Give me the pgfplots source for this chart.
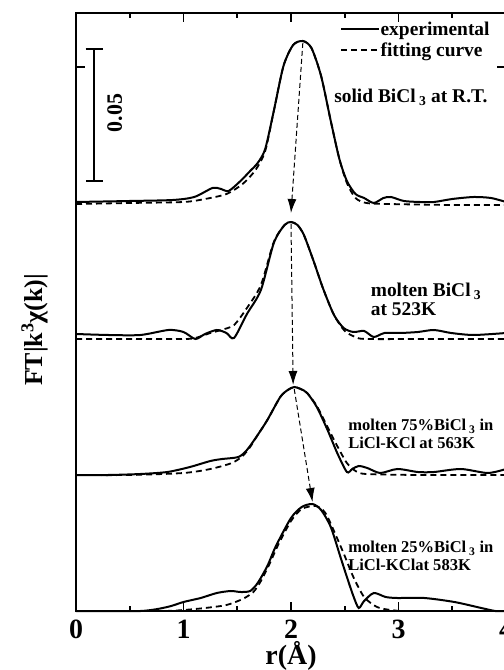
\documentclass[border=0pt]{standalone}
\usepackage{fontspec}
\setmainfont{Liberation Serif}
\usepackage{pgfplots}
\pgfplotsset{compat=1.18}
\usetikzlibrary{arrows.meta}
\begin{document}
\begin{tikzpicture}
\tikzset{
  exp/.style={line width=2bp, black, smooth, tension=0.45},
  fit/.style={line width=1.8bp, black, dash pattern=on 6bp off 4bp, smooth, tension=0.45},
  arr/.style={line width=1bp, black, dash pattern=on 5bp off 3bp, -{Latex[length=14bp,width=9bp]}},
}
\begin{axis}[
  name=ax,
  scale only axis,
  width=430bp, height=598bp,
  xmin=0, xmax=4, ymin=0, ymax=598,
  axis line style={line width=2bp},
  every tick/.style={line width=1.8bp, black},
  tick align=inside,
  major tick length=9bp, minor tick length=5bp,
  xtick={0,1,2,3,4},
  minor xtick={0.5,1.5,2.5,3.5},
  xtick pos=both,
  ytick={544}, yticklabels={}, ytick pos=both,
  /pgf/number format/assume math mode=true,
  xticklabel style={font=\fontsize{28}{28}\selectfont\bfseries, anchor=center, yshift=-18bp},
  xlabel={r(Å)},
  xlabel style={font=\fontsize{28}{28}\selectfont\bfseries, at={(axis description cs:0.5,-0.075)}, anchor=center},
  ylabel={FT|k\textsuperscript{3}χ(k)|},
  ylabel style={font=\fontsize{26}{26}\selectfont\bfseries, at={(axis description cs:-0.096,0.47)}, anchor=center},
  clip=false,
  legend style={at={(axis cs:2.455,590)}, anchor=north west, draw=none, fill=none,
    font=\fontsize{19.5}{19.5}\selectfont\bfseries, inner sep=0pt, row sep=5bp,
    nodes={inner sep=0.5bp}, cells={anchor=west}},
  legend image code/.code={\draw[#1] (0bp,0bp) -- (38bp,0bp);},
]
\addlegendimage{line width=2bp, black}
\addlegendentry{experimental}
\addlegendimage{line width=1.8bp, black, dash pattern=on 6bp off 4bp}
\addlegendentry{fitting curve}

% ---- solid BiCl3 at R.T.
\addplot[exp, forget plot] coordinates {
(0,409) (0.5,410) (0.9,411) (1.1,414) (1.27,423) (1.35,422) (1.42,420) (1.53,430) (1.62,440)
(1.69,448) (1.76,462) (1.84,500) (1.93,545) (2.02,566) (2.11,570) (2.19,563) (2.28,535)
(2.37,490) (2.45,452) (2.52,430) (2.60,417) (2.68,413) (2.77,408) (2.86,413) (2.93,414)
(3.05,410) (3.2,409) (3.33,409) (3.5,412) (3.7,414) (3.86,413) (4.0,409)};
\addplot[fit, forget plot] coordinates {
(0,407) (0.5,408) (1.0,409) (1.2,412) (1.4,417) (1.55,427) (1.67,441) (1.76,460) (1.84,500)
(1.93,545) (2.02,566) (2.11,570) (2.19,563) (2.28,535) (2.37,490) (2.45,452) (2.52,428)
(2.60,413) (2.7,408) (2.9,407) (3.5,406) (4.0,406)};

% ---- molten BiCl3 at 523K
\addplot[exp, forget plot] coordinates {
(0,277) (0.3,276) (0.6,276) (0.86,281) (1.0,279) (1.11,272) (1.2,277) (1.31,281) (1.4,278)
(1.47,273) (1.59,297) (1.72,321) (1.84,368) (1.94,386) (2.0,389) (2.06,386) (2.12,376)
(2.21,350) (2.3,322) (2.4,296) (2.49,283) (2.58,279) (2.68,280) (2.77,274) (2.87,278)
(3.02,278) (3.18,279) (3.33,281) (3.49,278) (3.7,276) (4.0,278)};
\addplot[fit, forget plot] coordinates {
(0,272) (0.5,272) (1.0,272) (1.11,273) (1.25,278) (1.35,281) (1.47,286) (1.59,303) (1.72,326)
(1.84,369) (1.94,386) (2.0,389) (2.06,386) (2.12,376) (2.21,350) (2.3,322) (2.4,296)
(2.5,280) (2.6,274) (2.7,272) (3.3,272) (4.0,272)};

% ---- molten 75% BiCl3
\addplot[exp, forget plot] coordinates {
(0,136) (0.3,136) (0.6,137) (0.85,139) (1.06,144) (1.25,150) (1.36,152) (1.51,154) (1.59,161)
(1.69,176) (1.78,191) (1.9,214) (1.97,221) (2.03,224) (2.09,222) (2.15,218) (2.24,204)
(2.34,181) (2.43,158) (2.52,139) (2.57,142) (2.63,145) (2.71,143) (2.83,138) (2.99,142)
(3.18,139) (3.33,139) (3.58,142) (3.83,138) (4.0,142)};
\addplot[fit, forget plot] coordinates {
(0,136) (0.5,136) (1.0,138) (1.25,142) (1.45,148) (1.55,155) (1.62,164) (1.69,176) (1.78,191)
(1.9,214) (1.97,221) (2.03,224) (2.09,222) (2.15,218) (2.24,205) (2.34,184) (2.43,165)
(2.52,148) (2.6,140) (2.7,137) (3.2,136) (4.0,136)};

% ---- molten 25% BiCl3
\addplot[exp, forget plot] coordinates {
(0,0) (0.6,0) (0.85,4) (1.0,9) (1.16,13) (1.31,18) (1.44,20) (1.53,19) (1.62,20) (1.69,28)
(1.78,45) (1.86,65) (2.0,93) (2.1,104) (2.2,107) (2.28,101) (2.37,84) (2.46,54) (2.52,34)
(2.58,15) (2.63,3) (2.68,10) (2.77,18) (2.88,14) (2.99,13) (3.24,13) (3.52,9) (3.77,3)
(3.9,0) (4.0,0)};
\addplot[fit, forget plot] coordinates {
(0,0) (0.8,0) (1.0,1) (1.2,3) (1.4,6) (1.55,12) (1.65,19) (1.72,30) (1.8,47) (1.88,66)
(2.0,90) (2.1,102) (2.23,105) (2.32,98) (2.42,75) (2.5,55) (2.58,34) (2.68,14) (2.8,4)
(2.93,1) (3.1,0) (4.0,0)};

% ---- dashed arrows
\addplot[arr, forget plot] coordinates {(2.11,568) (2.0,398)};
\addplot[arr, forget plot] coordinates {(2.0,387) (2.02,226)};
\addplot[arr, forget plot] coordinates {(2.03,222) (2.20,109)};

% ---- scale bar
\addplot[line width=2bp, black, {Bar[width=17bp]}-{Bar[width=17bp]}, forget plot]
  coordinates {(0.168,429) (0.168,563)};
\node[rotate=90, font=\fontsize{22}{22}\selectfont\bfseries] at (axis cs:0.36,498) {0.05};

% ---- labels
\node[anchor=west, font=\fontsize{19.5}{19.5}\selectfont\bfseries] at (axis cs:2.37,514)
  {solid BiCl\,\textsubscript{3} at R.T.};
\node[anchor=west, align=left, font=\fontsize{19.5}{19}\selectfont\bfseries] at (axis cs:2.71,312)
  {molten BiCl\,\textsubscript{3}\\at 523K};
\node[anchor=west, align=left, font=\fontsize{16.6}{18}\selectfont\bfseries] at (axis cs:2.50,177)
  {molten 75\%BiCl\,\textsubscript{3} in\\LiCl-KCl at 563K};
\node[anchor=west, align=left, font=\fontsize{16.6}{18}\selectfont\bfseries] at (axis cs:2.50,55)
  {molten 25\%BiCl\,\textsubscript{3} in\\LiCl-KClat 583K};
\end{axis}
\pgfresetboundingbox
\path[use as bounding box] ([shift={(-76bp,-59bp)}]ax.south west) rectangle ++(504bp,670bp);
\end{tikzpicture}
\end{document}
